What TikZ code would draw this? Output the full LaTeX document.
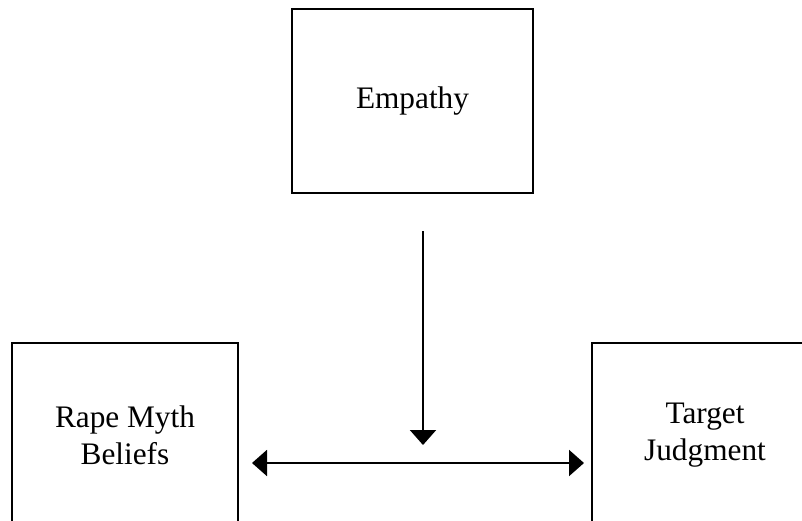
\documentclass[tikz,border=0pt]{standalone}
\usepackage{fontspec}
\setmainfont{Liberation Serif}
\usetikzlibrary{arrows.meta}
\tikzstyle{factor} = [rectangle, draw=black, line width=2pt, minimum width=226pt, minimum height=184pt, align=center, font=\fontsize{31.3}{37}\selectfont]
\tikzstyle{link} = [line width=2pt,-{Triangle[width=26pt,length=15pt]}]
\tikzstyle{link_both} = [line width=2pt,{Triangle[width=26pt,length=15pt]}-{Triangle[width=26pt,length=15pt]}]

\begin{document}
\begin{tikzpicture}[x=1pt, y=-1pt]
		\useasboundingbox (0,0) rectangle (802,520);
		\clip (0,0) rectangle (802,520);

		\node (emp) [factor, minimum width=241pt] at (412.5,101) {Empathy};
		\node (rmb) [factor] at (125,435) {Rape Myth\\Beliefs};
		\node (tj) [factor] at (705,435) {Target\\Judgment};

		\coordinate (mid) at (423,463);
		\coordinate (tip) at (423,445);

		\draw [link] ([yshift=-37pt]tip |- emp.south) -- (tip);
		\draw [link_both] ([xshift=13pt]rmb.east |- mid) -- ([xshift=-7pt]tj.west |- mid);

		\end{tikzpicture}
\end{document}
